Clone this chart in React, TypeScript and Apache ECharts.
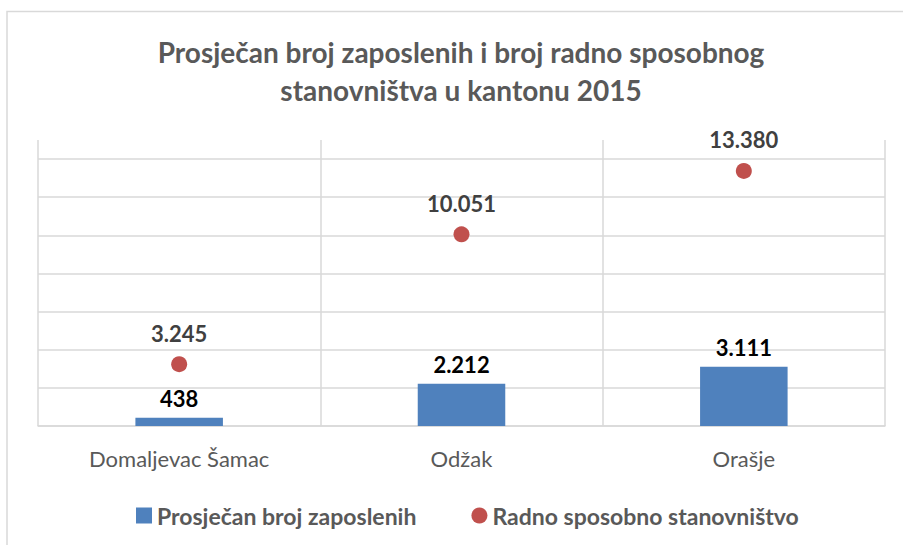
import React, { useEffect, useRef } from "react";
import * as echarts from "echarts";

const categories = ["Domaljevac Šamac", "Odžak", "Orašje"];
const employed = [438, 2212, 3111];
const workingAge = [3245, 10051, 13380];
const seriesNames = ["Prosječan broj zaposlenih", "Radno sposobno stanovništvo"];
const titleLines = ["Prosječan broj zaposlenih i broj radno sposobnog", "stanovništva u kantonu 2015"];

const FONT = "Lato, 'Open Sans', sans-serif";

function fmt(v: number): string {
  return String(v).replace(/\B(?=(\d{3})+(?!\d))/g, ".");
}

export default function App() {
  const ref = useRef<HTMLDivElement>(null);
  useEffect(() => {
    if (!ref.current) return;
    const chart = echarts.init(ref.current, null, { renderer: "svg" });
    chart.setOption({
      animation: false,
      backgroundColor: "#ffffff",
      title: {
        text: titleLines.join("\n"),
        left: 461,
        textAlign: "center",
        top: 33,
        padding: 0,
        textStyle: {
          fontFamily: FONT,
          fontSize: 28,
          fontWeight: "bold",
          color: "#595959",
          lineHeight: 38,
        },
      },
      graphic: [
        {
          type: "rect",
          shape: { x: 7, y: 11.5, width: 1000, height: 1000 },
          style: { fill: "none", stroke: "#d9d9d9", lineWidth: 1.5 },
          silent: true,
        },
      ],
      legend: {
        top: 504,
        left: 136,
        padding: 0,
        itemGap: 55,
        itemWidth: 16,
        itemHeight: 16,
        data: [
          { name: seriesNames[0], icon: "rect" },
          { name: seriesNames[1], icon: "circle" },
        ],
        textStyle: {
          fontFamily: FONT,
          fontSize: 23,
          fontWeight: "bold",
          color: "#595959",
        },
      },
      grid: { left: 38, right: 18, top: 140, bottom: 119 },
      xAxis: {
        type: "category",
        data: categories,
        axisLine: { lineStyle: { color: "#d9d9d9", width: 1.5 } },
        axisTick: { show: false },
        splitLine: { show: true, lineStyle: { color: "#d9d9d9", width: 1.5 } },
        axisLabel: {
          margin: 21,
          fontFamily: FONT,
          fontSize: 22,
          color: "#595959",
        },
      },
      yAxis: {
        type: "value",
        min: 0,
        max: 15000,
        interval: 2000,
        axisLabel: { show: false },
        axisLine: { show: false },
        axisTick: { show: false },
        splitLine: {
          show: true,
          showMaxLine: false,
          lineStyle: { color: "#d9d9d9", width: 1.5 },
        },
      },
      series: [
        {
          name: seriesNames[0],
          type: "bar",
          data: employed,
          barWidth: "31%",
          itemStyle: { color: "#4f81bd" },
          label: {
            show: true,
            position: "top",
            distance: 8,
            formatter: (p: any) => fmt(p.value),
            fontFamily: FONT,
            fontSize: 22,
            fontWeight: "bold",
            color: "#000000",
          },
        },
        {
          name: seriesNames[1],
          type: "scatter",
          data: workingAge,
          symbol: "circle",
          symbolSize: 16,
          itemStyle: { color: "#c0504d", opacity: 1 },
          label: {
            show: true,
            position: "top",
            distance: 12,
            formatter: (p: any) => fmt(p.value),
            fontFamily: FONT,
            fontSize: 22,
            fontWeight: "bold",
            color: "#404040",
          },
        },
      ],
    });
    return () => chart.dispose();
  }, []);
  return (
    <div
      ref={ref}
      style={{ position: "absolute", left: 0, top: 0, width: 903, height: 545 }}
    />
  );
}
